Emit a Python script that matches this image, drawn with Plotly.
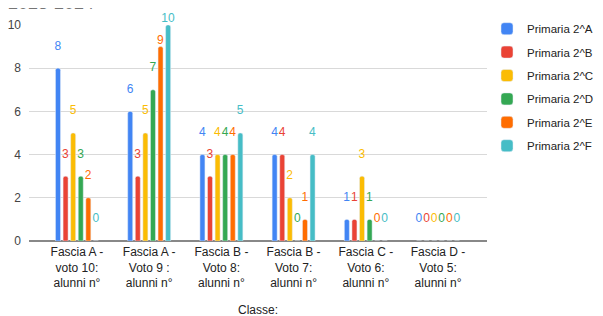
import plotly.graph_objects as go

categories = [
    "Fascia A -<br>voto 10:<br>alunni n°",
    "Fascia A -<br>Voto 9 :<br>alunni n°",
    "Fascia B -<br>Voto 8:<br>alunni n°",
    "Fascia B -<br>Voto 7:<br>alunni n°",
    "Fascia C -<br>Voto 6:<br>alunni n°",
    "Fascia D -<br>Voto 5:<br>alunni n°",
]
series_names = ["Primaria 2^A", "Primaria 2^B", "Primaria 2^C",
                "Primaria 2^D", "Primaria 2^E", "Primaria 2^F"]
primaria_2A = [8, 6, 4, 4, 1, 0]
primaria_2B = [3, 3, 3, 4, 1, 0]
primaria_2C = [5, 5, 4, 2, 3, 0]
primaria_2D = [3, 7, 4, 0, 1, 0]
primaria_2E = [2, 9, 4, 1, 0, 0]
primaria_2F = [0, 10, 5, 4, 0, 0]
y_ticks = [0, 2, 4, 6, 8, 10]
title_text = "2023-2024"
x_title = "Classe:"

series_values = [primaria_2A, primaria_2B, primaria_2C,
                 primaria_2D, primaria_2E, primaria_2F]
colors = ["#4285F4", "#EA4335", "#FBBC04", "#34A853", "#FF6D01", "#46BDC6"]
FONT = "Liberation Sans, Arial, sans-serif"
ymax = max(y_ticks)

fig = go.Figure()
for i, (name, vals, col) in enumerate(zip(series_names, series_values, colors)):
    labels = [str(v) if v >= ymax - 1 else f"{v}<br> " for v in vals]
    fig.add_trace(go.Bar(
        x=categories, y=vals, name=name, marker_color=col,
        text=labels, textposition="outside",
        textfont=dict(color=col, size=12, family=FONT),
        constraintext="none",
        cliponaxis=False, legendgroup=f"g{i}",
    ))

annotations = [
    dict(text=x_title, x=0.5, xref="paper", y=-0.319, yref="paper",
         showarrow=False, xanchor="center", yanchor="middle",
         font=dict(size=12, color="#222", family=FONT)),
    dict(text=title_text, xref="paper", yref="paper",
         x=-0.05, y=1.046, xanchor="left", yanchor="bottom",
         showarrow=False, font=dict(size=18, color="#757575", family=FONT)),
]

fig.update_layout(
    width=595, height=308,
    margin=dict(l=21, r=116, t=17, b=75, autoexpand=False),
    paper_bgcolor="white", plot_bgcolor="white",
    barmode="group", bargap=0.37, bargroupgap=0.34,
    barcornerradius=2,
    font=dict(family=FONT, size=12, color="#222"),
    showlegend=True,
    legend=dict(x=1.0, xanchor="left", y=1.05, yanchor="top",
                font=dict(size=11.5, color="#222", family=FONT), tracegroupgap=4.4,
                bgcolor="rgba(0,0,0,0)"),
    annotations=annotations,
)
fig.update_xaxes(range=[-0.664, 5.678], showgrid=False, ticks="",
                 automargin=False, ticklabelstandoff=2,
                 tickfont=dict(size=12, color="#222", family=FONT))
fig.update_yaxes(range=[0, 10], tickvals=y_ticks, showgrid=True,
                 automargin=False,
                 gridcolor="#d9d9d9", zeroline=True, zerolinecolor="#888",
                 zerolinewidth=1.5, ticks="", tickfont=dict(size=12, color="#444"),
                 ticklabelstandoff=7)
fig.write_html("out.html")
